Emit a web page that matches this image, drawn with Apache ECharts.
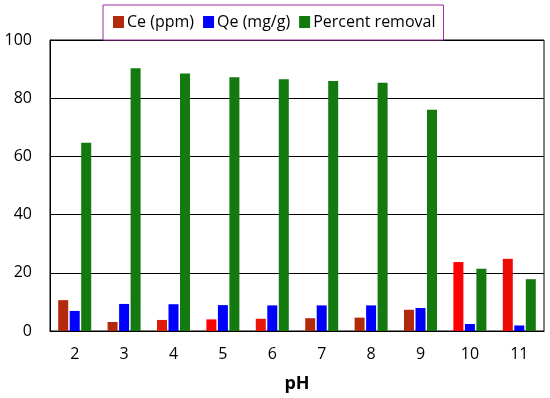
<!DOCTYPE html>
<html>
<head>
<meta charset="utf-8">
<script src="https://cdn.jsdelivr.net/npm/echarts@6/dist/echarts.min.js"></script>
<style>html,body{margin:0;padding:0;background:#fff;}#c{width:550px;height:398px;}</style>
</head>
<body>
<div id="c"></div>
<script>
var categories = ['2','3','4','5','6','7','8','9','10','11'];
var ceValues = [10.6, 3.1, 3.8, 4.0, 4.2, 4.4, 4.6, 7.3, 23.7, 24.8];
var qeValues = [6.9, 9.3, 9.2, 8.9, 8.8, 8.8, 8.8, 7.9, 2.4, 1.9];
var removalValues = [64.7, 90.3, 88.5, 87.2, 86.5, 85.9, 85.3, 76.0, 21.4, 17.8];
var yTicks = [0, 20, 40, 60, 80, 100];

var ceColors = ['#b3290b','#b3290b','#e01a0a','#ff0000','#e81508','#b3290b','#b3290b','#b3290b','#ff0000','#f00a04'];
var font = 'Open Sans';

var chart = echarts.init(document.getElementById('c'));
chart.setOption({
  animation: false,
  textStyle: {fontFamily: font},
  grid: {left: 50, right: 6, top: 40, bottom: 67, show: true, borderColor: '#000', borderWidth: 1, backgroundColor: 'transparent'},
  legend: {
    top: 5, left: 103,
    padding: [9, 8, 10, 10],
    borderColor: '#9a2f9a', borderWidth: 1,
    backgroundColor: '#fff',
    itemWidth: 11, itemHeight: 12, itemGap: 9,
    icon: 'rect',
    textStyle: {fontFamily: font, fontSize: 16, color: '#000', padding: [0,0,0,-2]},
    data: ['Ce (ppm)', 'Qe (mg/g)', 'Percent removal']
  },
  xAxis: {
    type: 'category',
    data: categories,
    name: 'pH',
    nameLocation: 'middle',
    nameGap: 44,
    nameTextStyle: {fontFamily: font, fontSize: 18, fontWeight: 'bold', color: '#000'},
    axisLine: {lineStyle: {color: '#000', width: 1}},
    axisTick: {show: false},
    axisLabel: {fontFamily: font, fontSize: 16, color: '#000', margin: 15}
  },
  yAxis: {
    type: 'value',
    min: yTicks[0], max: yTicks[yTicks.length - 1], interval: 20,
    axisLine: {show: true, lineStyle: {color: '#000'}},
    axisTick: {show: false},
    splitLine: {lineStyle: {color: '#000', width: 1}},
    axisLabel: {fontFamily: font, fontSize: 16, color: '#000', margin: 18}
  },
  series: [
    {name: 'Ce (ppm)', type: 'bar', barWidth: 10, barGap: '15%', itemStyle: {color: '#b3290b'},
     data: ceValues.map(function(v, i){ return {value: v, itemStyle: {color: ceColors[i]}}; })},
    {name: 'Qe (mg/g)', type: 'bar', barWidth: 10, barGap: '15%', itemStyle: {color: '#0000ff'}, data: qeValues},
    {name: 'Percent removal', type: 'bar', barWidth: 10, barGap: '15%', itemStyle: {color: '#127a0e'}, data: removalValues}
  ]
});
</script>
</body>
</html>
